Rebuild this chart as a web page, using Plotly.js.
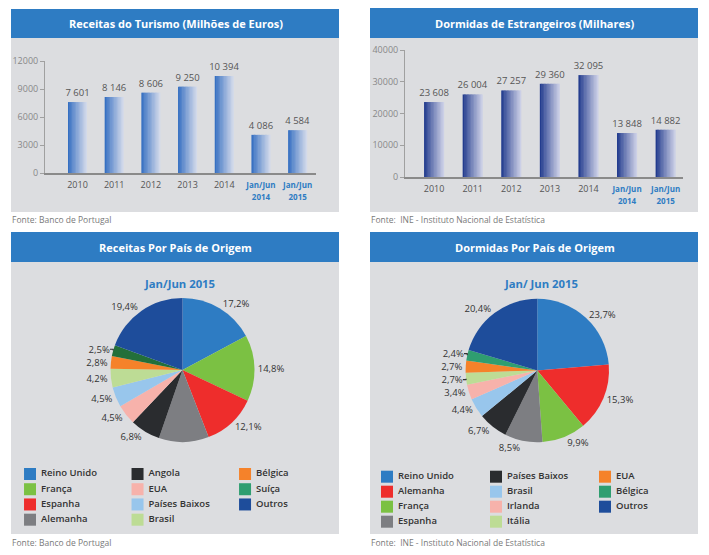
<!DOCTYPE html>
<html><head><meta charset="utf-8">
<script src="https://cdn.plot.ly/plotly-3.0.1.min.js"></script>
<style>html,body{margin:0;padding:0;background:#fff}#chart{width:709px;height:555px}</style>
</head><body><div id="chart"></div>
<script>
// ---------- DATA ----------
const anos = ['2010','2011','2012','2013','2014','Jan/Jun 2014','Jan/Jun 2015'];
const anosRotulos = ['2010','2011','2012','2013','2014','Jan/Jun|2014','Jan/Jun|2015'];
const receitas = [7601, 8146, 8606, 9250, 10394, 4086, 4584];
const dormidas = [23608, 26004, 27257, 29360, 32095, 13848, 14882];

const receitasPaises = ['Reino Unido','França','Espanha','Alemanha','Angola','EUA','Países Baixos','Brasil','Bélgica','Suíça','Outros'];
const receitasPct = [17.2, 14.8, 12.1, 11.2, 6.8, 4.5, 4.5, 4.2, 2.8, 2.5, 19.4];
const receitasSemRotulo = ['Alemanha'];

const dormidasPaises = ['Reino Unido','Alemanha','França','Espanha','Países Baixos','Brasil','Irlanda','Itália','EUA','Bélgica','Outros'];
const dormidasPct = [23.7, 15.3, 9.9, 8.5, 6.7, 4.4, 3.4, 2.7, 2.7, 2.4, 20.4];

// ---------- STYLE ----------
const AZUL='#2e7cc3', VERDE='#7bc143', VERM='#ee2d2c', CINZA='#7d7e82', PRETO='#2a2c2f',
      ROSA='#f7b2ab', AZULC='#98c6ec', VERDEC='#bddc95', LARANJA='#f5822a', VERDEE='#236f3a',
      TEAL='#2f9e70', NAVY='#1e4d9b';
const pie1Cores = [AZUL, VERDE, VERM, CINZA, PRETO, ROSA, AZULC, VERDEC, LARANJA, VERDEE, NAVY];
const pie1LegCores = [AZUL, VERDE, VERM, CINZA, PRETO, ROSA, AZULC, VERDEC, LARANJA, TEAL, NAVY];
const pie2Cores = [AZUL, VERM, VERDE, CINZA, PRETO, AZULC, ROSA, VERDEC, LARANJA, TEAL, NAVY];

const W = 709, H = 555;
const px = v => v / W;
const py = v => 1 - v / H;
const FONT = 'Open Sans, Noto Sans, DejaVu Sans, sans-serif';

const fmtMil = v => String(v).replace(/\B(?=(\d{3})+(?!\d))/g, ' ');
const fmtPct = v => v.toFixed(1).replace('.', ',') + '%';

function hex2rgb(h){return [1,3,5].map(i=>parseInt(h.substr(i,2),16));}
function lerp(c0,c1,t){const a=hex2rgb(c0),b=hex2rgb(c1);return 'rgb('+a.map((v,i)=>Math.round(v+(b[i]-v)*t)).join(',')+')';}

function tickText(lbl){
  if(lbl.indexOf('|')<0) return lbl;
  const p = lbl.split('|');
  const st = "style='color:#2e7cc3;font-size:8px;font-weight:bold'";
  return "<span "+st+">"+p[0]+"</span><br><span "+st+">"+p[1]+"</span>";
}

const traces = [];
function gradBars(vals, xa, ya, c0, c1){
  const N = 14, BW = 0.52, w = BW / N;
  for(let k=0;k<N;k++){
    const t = k/(N-1);
    traces.push({type:'bar', x: anos, y: vals, xaxis: xa, yaxis: ya,
      width: k<N-1 ? w*1.4 : w, offset: -BW/2 + k*w,
      marker:{color: lerp(c0,c1,Math.pow(t,0.9)), line:{width:0}},
      hoverinfo:'none', showlegend:false});
  }
  traces.push({type:'bar', x: anos, y: vals, xaxis: xa, yaxis: ya, width: BW,
    marker:{color:'rgba(0,0,0,0)', line:{width:0}},
    text: vals.map(fmtMil), textposition:'outside', cliponaxis:false, constraintext:'none',
    textfont:{family:FONT, size:9.5, color:'#555'}, hoverinfo:'none', showlegend:false});
}
gradBars(receitas, 'x', 'y', '#3670c2', '#d2d9ea');
gradBars(dormidas, 'x2', 'y2', '#233c8e', '#cbcfe6');

traces.push({type:'pie', labels: receitasPaises, values: receitasPct, sort:false,
  direction:'clockwise', rotation:0,
  marker:{colors: pie1Cores, line:{width:0}},
  text: receitasPaises.map((p,i)=> receitasSemRotulo.includes(p) ? '' : fmtPct(receitasPct[i])),
  textinfo:'text', textposition:'outside',
  outsidetextfont:{family:FONT, size:9.5, color:'#333'},
  domain:{x:[px(110.5), px(254.5)], y:[py(442), py(298)]},
  showlegend:false, hoverinfo:'none'});

traces.push({type:'pie', labels: dormidasPaises, values: dormidasPct, sort:false,
  direction:'clockwise', rotation:0,
  marker:{colors: pie2Cores, line:{width:0}},
  text: dormidasPct.map(fmtPct),
  textinfo:'text', textposition:'outside',
  outsidetextfont:{family:FONT, size:9.5, color:'#333'},
  domain:{x:[px(465.6), px(609)], y:[py(442.2), py(298.8)]},
  showlegend:false, hoverinfo:'none'});

// legend blocks (column-major, 4 rows)
function legendTrace(names, cores, xa, ya){
  traces.push({type:'scatter', mode:'markers+text', xaxis:xa, yaxis:ya,
    x: names.map((n,i)=>Math.floor(i/4)), y: names.map((n,i)=>i%4),
    marker:{symbol:'square', size:12, color:cores, line:{width:0}},
    text: names.map(n=>' '+n), textposition:'middle right',
    textfont:{family:FONT, size:9.5, color:'#333', weight:600},
    hoverinfo:'none', showlegend:false, cliponaxis:false});
}
legendTrace(receitasPaises, pie1LegCores, 'x3', 'y3');
legendTrace(dormidasPaises, pie2Cores, 'x4', 'y4');

// ---------- LAYOUT ----------
const xBase = {type:'category', showline:true, linecolor:'#8a8a8a', linewidth:1.5, ticks:'',
  showgrid:false, zeroline:false, fixedrange:true,
  tickfont:{family:FONT, size:9, color:'#555'}, ticklabelstandoff:3,
  tickmode:'array', tickvals: anos, ticktext: anosRotulos.map(tickText)};
const yBase = {showline:true, linecolor:'#a0a0a0', linewidth:1, ticks:'outside', ticklen:4,
  tickcolor:'#a0a0a0', showgrid:false, zeroline:false, fixedrange:true, tickformat:'d',
  tickfont:{family:FONT, size:9, color:'#888'}};
const hidden = {visible:false, showgrid:false, zeroline:false, fixedrange:true};

const panels = [[11,9,339,212],[370,8,698,212],[11,232,339,534],[370,232,698,534]];
const bands  = [[11,9,339,38],[370,8,698,38],[11,232,339,262],[370,232,698,262]];
const shapes = [];
panels.forEach(p=>shapes.push({type:'rect', xref:'paper', yref:'paper', layer:'below',
  x0:px(p[0]), x1:px(p[2]), y0:py(p[3]), y1:py(p[1]), fillcolor:'#dcdde0', line:{width:0}}));
bands.forEach(p=>shapes.push({type:'rect', xref:'paper', yref:'paper', layer:'below',
  x0:px(p[0]), x1:px(p[2]), y0:py(p[3]), y1:py(p[1]), fillcolor:'#2e7cc3', line:{width:0}}));

function ann(text, x, y, opt){
  return Object.assign({text, xref:'paper', yref:'paper', x:px(x), y:py(y), showarrow:false,
    xanchor:'center', yanchor:'middle'}, opt||{});
}
const titleFont = {family:FONT, size:11, color:'#fff', weight:700};
const fonteFont = {family:FONT, size:8.5, color:'#7a7a7a'};
const pieTitleFont = {family:FONT, size:11.3, color:'#2e7cc3', weight:700};
const annotations = [
  ann('Receitas do Turismo (Milhões de Euros)', 175.5, 23.5, {font:titleFont}),
  ann('Dormidas de Estrangeiros (Milhares)', 534.3, 23, {font:titleFont}),
  ann('Receitas Por País de Origem', 175.5, 247.5, {font:titleFont}),
  ann('Dormidas Por País de Origem', 534.5, 247.5, {font:titleFont}),
  ann('Fonte: Banco de Portugal', 10, 220, {xanchor:'left', font:fonteFont}),
  ann('Fonte:  INE - Instituto Nacional de Estatística', 369, 220, {xanchor:'left', font:fonteFont}),
  ann('Fonte: Banco de Portugal', 10, 542.5, {xanchor:'left', font:fonteFont}),
  ann('Fonte:  INE - Instituto Nacional de Estatística', 369, 542.5, {xanchor:'left', font:fonteFont}),
  ann('Jan/Jun 2015', 179, 283.5, {font:pieTitleFont}),
  ann('Jan/ Jun 2015', 540.7, 283.5, {font:pieTitleFont})
];

const layout = {
  width: W, height: H, margin:{l:0,r:0,t:0,b:0,pad:0},
  paper_bgcolor:'#ffffff', plot_bgcolor:'rgba(0,0,0,0)',
  font:{family:FONT}, barmode:'overlay', hovermode:false, showlegend:false,
  xaxis: Object.assign({}, xBase, {domain:[px(45), px(316)], range:[-0.886, 6.50], anchor:'y'}),
  yaxis: Object.assign({}, yBase, {domain:[py(173), py(61)], range:[0,12000], dtick:3000, anchor:'x'}),
  xaxis2: Object.assign({}, xBase, {domain:[px(405), px(683)], range:[-0.754, 6.45], anchor:'y2'}),
  yaxis2: Object.assign({}, yBase, {domain:[py(177), py(50)], range:[0,40000], dtick:10000, anchor:'x2'}),
  xaxis3: Object.assign({}, hidden, {domain:[px(11), px(339)], range:[-0.177, 2.874], anchor:'y3'}),
  yaxis3: Object.assign({}, hidden, {domain:[py(534), py(462)], range:[3.94, -0.788], anchor:'x3'}),
  xaxis4: Object.assign({}, hidden, {domain:[px(370), px(698)], range:[-0.156, 2.853], anchor:'y4'}),
  yaxis4: Object.assign({}, hidden, {domain:[py(534), py(462)], range:[3.82, -0.98], anchor:'x4'}),
  shapes, annotations
};
Plotly.newPlot('chart', traces, layout, {staticPlot:true, displayModeBar:false});
</script></body></html>
